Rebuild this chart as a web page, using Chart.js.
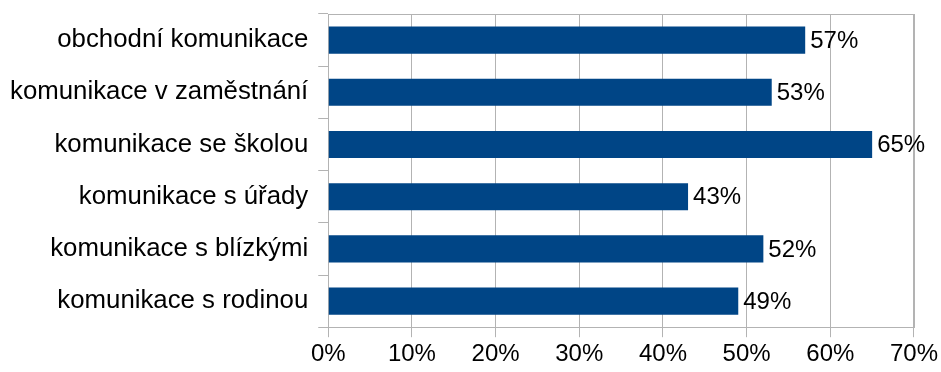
<!DOCTYPE html>
<html>
<head>
<meta charset="utf-8">
<script src="https://cdn.jsdelivr.net/npm/chart.js@4/dist/chart.umd.min.js"></script>
<style>
  html, body { margin: 0; padding: 0; background: #fff; }
  #wrap { width: 941px; height: 372px; }
</style>
</head>
<body>
<div id="wrap"><canvas id="chart"></canvas></div>
<script>
const categories = [
  "obchodní komunikace",
  "komunikace v zaměstnání",
  "komunikace se školou",
  "komunikace s úřady",
  "komunikace s blízkými",
  "komunikace s rodinou"
];
const values = [57, 53, 65, 43, 52, 49];
const xTicks = [0, 10, 20, 30, 40, 50, 60, 70];

const FONT = "'Liberation Sans', Arial, sans-serif";

// value labels at the end of every bar
const barLabels = {
  id: "barLabels",
  afterDatasetsDraw(chart) {
    const ctx = chart.ctx;
    const meta = chart.getDatasetMeta(0);
    ctx.save();
    ctx.font = "24px " + FONT;
    ctx.fillStyle = "#000";
    ctx.textAlign = "left";
    ctx.textBaseline = "middle";
    meta.data.forEach((bar, i) => {
      ctx.fillText(values[i] + "%", bar.x + 5, bar.y + 1);
    });
    ctx.restore();
  }
};

// box round the plot area
const frame = {
  id: "frame",
  beforeDatasetsDraw(chart) {
    const a = chart.chartArea;
    const ctx = chart.ctx;
    ctx.save();
    ctx.strokeStyle = "#b3b3b3";
    ctx.lineWidth = 1;
    ctx.strokeRect(Math.round(a.left) + 0.5, Math.round(a.top) + 0.5,
      Math.round(a.right - a.left), Math.round(a.bottom - a.top));
    ctx.restore();
  }
};

new Chart(document.getElementById("chart"), {
  type: "bar",
  data: {
    labels: categories,
    datasets: [{
      data: values,
      backgroundColor: "#004586",
      barPercentage: 0.52,
      categoryPercentage: 1.0
    }]
  },
  plugins: [frame, barLabels],
  options: {
    indexAxis: "y",
    responsive: true,
    maintainAspectRatio: false,
    animation: false,
    layout: { padding: { top: 14, right: 2, left: 0, bottom: 0 } },
    plugins: { legend: { display: false }, tooltip: { enabled: false } },
    scales: {
      x: {
        min: 0,
        max: 70,
        afterBuildTicks(scale) {
          scale.ticks = xTicks.map(v => ({ value: v }));
        },
        ticks: {
          callback: v => v + "%",
          color: "#000",
          font: { family: FONT, size: 24 },
          padding: 3
        },
        grid: { color: "#b3b3b3", tickLength: 10 },
        border: { color: "#b3b3b3" }
      },
      y: {
        afterFit(scale) {
          scale.paddingTop = 0;
          scale.paddingBottom = 0;
        },
        ticks: {
          color: "#000",
          font: { family: FONT, size: 25.8 },
          padding: 10
        },
        grid: { color: "#b3b3b3", tickLength: 10, drawOnChartArea: false, offset: true },
        border: { color: "#b3b3b3" }
      }
    }
  }
});
</script>
</body>
</html>
